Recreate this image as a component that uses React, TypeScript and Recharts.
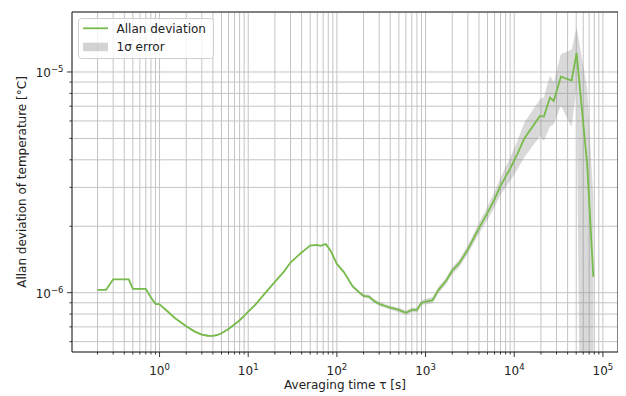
import React from 'react';
import { ComposedChart, XAxis, YAxis, CartesianGrid, Area, Line, ReferenceArea } from 'recharts';

// averaging times [s]
const tau = [
  0.2, 0.25, 0.3, 0.35, 0.4, 0.45, 0.5, 0.6, 0.7, 0.8, 0.9, 1.0,
  1.2, 1.5, 2, 2.5, 3, 3.5, 4, 4.5, 5, 6, 7, 8, 9, 10,
  12, 15, 20, 25, 30, 35, 40, 45, 50, 60, 65, 75, 85, 100,
  120, 150, 180, 200, 230, 260, 300, 350, 400, 500, 600, 700, 800, 900, 1000,
  1200, 1400, 1700, 2000, 2400, 3000, 4000, 5000, 6000, 7000, 9000, 11000, 13000,
  19500, 21600, 25300, 27900, 33600, 44400, 50500, 66500, 78000,
];

// Allan deviation of temperature [°C]
const allanDev = [
  1.03e-6, 1.03e-6, 1.15e-6, 1.15e-6, 1.15e-6, 1.15e-6, 1.04e-6, 1.04e-6, 1.04e-6, 0.95e-6, 0.89e-6, 0.885e-6,
  0.83e-6, 0.766e-6, 0.705e-6, 0.666e-6, 0.646e-6, 0.638e-6, 0.637e-6, 0.643e-6, 0.655e-6, 0.685e-6, 0.718e-6, 0.75e-6, 0.785e-6, 0.82e-6,
  0.88e-6, 0.98e-6, 1.12e-6, 1.24e-6, 1.37e-6, 1.45e-6, 1.52e-6, 1.58e-6, 1.635e-6, 1.645e-6, 1.63e-6, 1.66e-6, 1.55e-6, 1.35e-6,
  1.24e-6, 1.07e-6, 1.0e-6, 0.966e-6, 0.96e-6, 0.92e-6, 0.89e-6, 0.87e-6, 0.855e-6, 0.835e-6, 0.811e-6, 0.835e-6, 0.835e-6, 0.9e-6, 0.912e-6,
  0.925e-6, 1.03e-6, 1.13e-6, 1.26e-6, 1.36e-6, 1.57e-6, 1.96e-6, 2.3e-6, 2.65e-6, 3.05e-6, 3.65e-6, 4.3e-6, 5.0e-6,
  6.32e-6, 6.28e-6, 7.66e-6, 7.39e-6, 9.53e-6, 9.14e-6, 1.22e-5, 3.8e-6, 1.18e-6,
];

// 1 sigma error of the Allan deviation
const allanErr = [
  5e-9, 5e-9, 5e-9, 5e-9, 5e-9, 5e-9, 5e-9, 5e-9, 5e-9, 5e-9, 5e-9, 5e-9,
  6e-9, 6e-9, 6e-9, 6e-9, 6e-9, 6e-9, 6e-9, 6e-9, 6e-9, 6e-9, 6e-9, 6e-9, 6e-9, 8e-9,
  8e-9, 8e-9, 8e-9, 8e-9, 8e-9, 8e-9, 8e-9, 8e-9, 8e-9, 1e-8, 1e-8, 1e-8, 1e-8, 1e-8,
  1.2e-8, 1.5e-8, 1.6e-8, 1.8e-8, 1.8e-8, 1.8e-8, 1.8e-8, 1.8e-8, 1.8e-8, 1.9e-8, 1.9e-8, 2.0e-8, 2.1e-8, 2.4e-8, 2.6e-8,
  3.0e-8, 3.5e-8, 4.0e-8, 4.7e-8, 5.5e-8, 7.0e-8, 1.1e-7, 1.6e-7, 2.1e-7, 2.7e-7, 4.4e-7, 6.5e-7, 9.0e-7,
  1.2e-6, 1.4e-6, 2.0e-6, 1.6e-6, 2.5e-6, 3.5e-6, 3.7e-6, 4.6e-6, 1.5e-6,
];

const X_DOMAIN = [0.103, 1.48e5];
const Y_DOMAIN = [5.385e-7, 1.87e-5];

const minorSteps = [2, 3, 4, 5, 6, 7, 8, 9];
const xDecades = [0.1, 1, 10, 100, 1000, 10000, 100000];
const yDecades = [1e-7, 1e-6, 1e-5];

const withMinor = (decades: number[], dom: number[]) =>
  decades
    .flatMap((d) => [d, ...minorSteps.map((m) => m * d)])
    .filter((v) => v >= dom[0] && v <= dom[1]);

const xTicks = withMinor(xDecades, X_DOMAIN);
const yTicks = withMinor(yDecades, Y_DOMAIN);

// log scale can't take values <= 0, push them far below the axis
const data = tau.map((t, i) => ({
  tau: t,
  adev: allanDev[i],
  band: [Math.max(allanDev[i] - allanErr[i], 1e-10), allanDev[i] + allanErr[i]],
}));

const W = 618;
const H = 388;
const PLOT_LEFT = 64;
const PLOT_TOP = 4;
const PLOT_RIGHT = 610;
const PLOT_BOTTOM = 344;

const FONT = '"DejaVu Sans", Verdana, sans-serif';
const GREEN = '#77bb4a';
const SPINE = '#222';

const isMajor = (v: number) => Math.abs(Math.log10(v) - Math.round(Math.log10(v))) < 1e-9;
const expLabel = (v: number) => {
  const e = Math.round(Math.log10(v));
  return e < 0 ? `\u2212${-e}` : `${e}`;
};

const XTick = (props: any) => {
  const { x, payload } = props;
  const v = payload.value;
  const major = isMajor(v);
  return (
    <g>
      <line x1={x} x2={x} y1={PLOT_BOTTOM} y2={PLOT_BOTTOM + (major ? 5 : 2.5)} stroke={SPINE} strokeWidth={0.9} />
      {major && (
        <text x={x} y={PLOT_BOTTOM + 23} textAnchor="middle" fontFamily={FONT} fontSize={12} fill="#222">
          10<tspan dy={-5} fontSize={8.5}>{expLabel(v)}</tspan>
        </text>
      )}
    </g>
  );
};

const YTick = (props: any) => {
  const { y, payload } = props;
  const v = payload.value;
  const major = isMajor(v);
  return (
    <g>
      <line x1={PLOT_LEFT - (major ? 5 : 2.5)} x2={PLOT_LEFT} y1={y} y2={y} stroke={SPINE} strokeWidth={0.9} />
      {major && (
        <text x={PLOT_LEFT - 8.5} y={y + 5} textAnchor="end" fontFamily={FONT} fontSize={12} fill="#222">
          10<tspan dy={-5} fontSize={8.5}>{expLabel(v)}</tspan>
        </text>
      )}
    </g>
  );
};

const LegendBox = () => (
  <svg width={137} height={42} style={{ position: 'absolute', left: 70, top: 10 }}>
    <rect x={0.5} y={0.5} width={135} height={40} rx={3} fill="#fff" fillOpacity={0.8} stroke="#d0d0d0" />
    <line x1={5} x2={30} y1={10.3} y2={10.3} stroke={GREEN} strokeWidth={1.8} />
    <text x={38.5} y={14.7} fontFamily={FONT} fontSize={12} fill="#222">Allan deviation</text>
    <rect x={5} y={24.7} width={25} height={8.5} fill="#808080" fillOpacity={0.35} />
    <text x={38.5} y={33.2} fontFamily={FONT} fontSize={12} fill="#222">1σ error</text>
  </svg>
);

export default function App() {
  return (
    <div style={{ position: 'relative', width: W, height: H }}>
      <ComposedChart width={W} height={H} data={data} margin={{ top: PLOT_TOP, right: W - PLOT_RIGHT, bottom: 0, left: 0 }}>
        <CartesianGrid stroke="#c4c4c4" strokeWidth={1} />
        <XAxis
          dataKey="tau"
          type="number"
          scale="log"
          domain={X_DOMAIN}
          allowDataOverflow
          ticks={xTicks}
          interval={0}
          height={H - PLOT_BOTTOM}
          axisLine={false}
          tickLine={false}
          tick={<XTick />}
          label={{ value: 'Averaging time τ [s]', position: 'insideBottom', offset: 7, fontFamily: FONT, fontSize: 12, fill: '#222' }}
        />
        <YAxis
          type="number"
          scale="log"
          domain={Y_DOMAIN}
          allowDataOverflow
          ticks={yTicks}
          interval={0}
          width={PLOT_LEFT}
          axisLine={false}
          tickLine={false}
          tick={<YTick />}
          label={{
            value: 'Allan deviation of temperature [°C]',
            angle: -90,
            position: 'insideLeft',
            offset: 14,
            fontFamily: FONT,
            fontSize: 12,
            fill: '#222',
            style: { textAnchor: 'middle' },
          }}
        />
        <Area
          dataKey="band"
          type="linear"
          stroke="none"
          fill="#808080"
          fillOpacity={0.3}
          isAnimationActive={false}
          activeDot={false}
        />
        <Line
          dataKey="adev"
          type="linear"
          stroke={GREEN}
          strokeWidth={1.8}
          dot={false}
          activeDot={false}
          isAnimationActive={false}
        />
        <ReferenceArea
          x1={X_DOMAIN[0]}
          x2={X_DOMAIN[1]}
          y1={Y_DOMAIN[0]}
          y2={Y_DOMAIN[1]}
          fill="none"
          stroke={SPINE}
          strokeWidth={1}
          ifOverflow="visible"
        />
      </ComposedChart>
      <LegendBox />
    </div>
  );
}
